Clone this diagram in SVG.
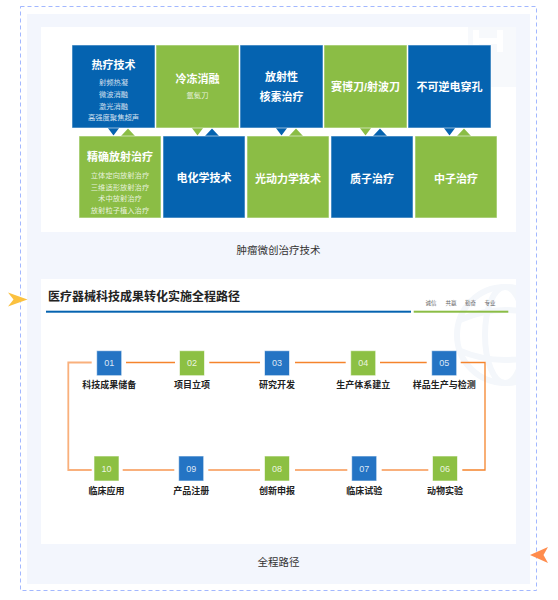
<svg xmlns="http://www.w3.org/2000/svg" width="558" height="600" viewBox="0 0 558 600">
<defs>
<style>
text{font-family:"Liberation Sans","Noto Sans CJK SC",sans-serif;text-anchor:middle;dominant-baseline:central}
.blue{fill:#0563b0}
.green{fill:#8bbd45}
.box{stroke:#ffffff;stroke-opacity:0.55;stroke-width:1}
.bt{fill:#ffffff;font-size:11px;font-weight:bold}
.st{fill:#ffffff;fill-opacity:0.82;font-size:7.3px}
.sq{stroke:#ffffff;stroke-opacity:0.6;stroke-width:1}
.sb{fill:#2474c4}
.sg{fill:#8cc043}
.num{fill:#ffffff;fill-opacity:0.85;font-size:9px}
.lab{fill:#222222;font-size:9px;font-weight:bold}
.cap{fill:#333333;font-size:10.5px}
.l1{fill:none;stroke:#f5842c;stroke-width:1.3}
.l2{fill:none;stroke:#f9b07c;stroke-width:1.8}
.wm{fill:none;stroke:#f4f7fb;stroke-width:6}
</style>
<clipPath id="c1"><rect x="41" y="27" width="475" height="205"/></clipPath>
<clipPath id="c2"><rect x="41" y="279" width="475" height="265"/></clipPath>
</defs>

<rect x="20.5" y="6.5" width="516" height="584" fill="none" stroke="#a3b8ff" stroke-width="1" stroke-dasharray="4 3"/>
<rect x="27" y="14" width="503" height="570" fill="#f3f6fd"/>
<rect x="41" y="27" width="475" height="205" fill="#ffffff"/>
<rect x="41" y="279" width="475" height="265" fill="#ffffff"/>

<g clip-path="url(#c1)">
<rect x="468" y="27" width="48" height="60" fill="#f7f9fc"/>
<path d="M476 30 L476 52 M476 41 L500 41 M500 30 L500 52" fill="none" stroke="#ffffff" stroke-width="6"/>
</g>
<g clip-path="url(#c2)">
<circle cx="505" cy="335" r="48" class="wm"/>
<ellipse cx="505" cy="335" rx="20" ry="48" class="wm" stroke-width="4"/>
<path d="M460 320 Q505 300 552 320 M458 350 Q505 370 552 350" class="wm" stroke-width="4"/>
</g>

<path d="M27.5 299.5 L8 292.5 L13.5 299.5 L8 306.5 Z" fill="#fbc13f"/>
<path d="M530 555 L548 547 L543.5 555 L548 563 Z" fill="#ff8c4d"/>

<g id="pointers">
<path d="M121 136 L135 136 L128 128.5 Z" class="green"/>
<path d="M107.5 127.5 L119.5 127.5 L113.5 135.5 Z" class="blue"/>
<path d="M205 136 L219 136 L212 128.5 Z" class="blue"/>
<path d="M191.5 127.5 L203.5 127.5 L197.5 135.5 Z" class="green"/>
<path d="M289 136 L303 136 L296 128.5 Z" class="green"/>
<path d="M275.5 127.5 L287.5 127.5 L281.5 135.5 Z" class="blue"/>
<path d="M373 136 L387 136 L380 128.5 Z" class="blue"/>
<path d="M359.5 127.5 L371.5 127.5 L365.5 135.5 Z" class="green"/>
<path d="M457 136 L471 136 L464 128.5 Z" class="green"/>
<path d="M443.5 127.5 L455.5 127.5 L449.5 135.5 Z" class="blue"/>
</g>

<g id="t1">
<rect x="72" y="45" width="83" height="83" class="blue box"/>
<text x="113.5" y="64.5" class="bt">热疗技术</text>
<text x="113.5" y="82.7" class="st">射频热凝</text>
<text x="113.5" y="94.4" class="st">微波消融</text>
<text x="113.5" y="106.1" class="st">激光消融</text>
<text x="113.5" y="117.8" class="st">高强度聚焦超声</text>
</g>
<g id="t2">
<rect x="156" y="45" width="83" height="83" class="green box"/>
<text x="197.5" y="79" class="bt">冷冻消融</text>
<text x="197.5" y="95.5" class="st">氩氦刀</text>
</g>
<g id="t3">
<rect x="240" y="45" width="83" height="83" class="blue box"/>
<text x="281.5" y="76.7" class="bt">放射性</text>
<text x="281.5" y="96.7" class="bt">核素治疗</text>
</g>
<g id="t4">
<rect x="324" y="45" width="83" height="83" class="green box"/>
<text x="365.5" y="86.7" class="bt">赛博刀/射波刀</text>
</g>
<g id="t5">
<rect x="408" y="45" width="83" height="83" class="blue box"/>
<text x="449.5" y="86.7" class="bt">不可逆电穿孔</text>
</g>

<g id="b1">
<rect x="79" y="136" width="82" height="82" class="green box"/>
<text x="120" y="156.7" class="bt">精确放射治疗</text>
<text x="120" y="175.3" class="st">立体定向放射治疗</text>
<text x="120" y="187" class="st">三维适形放射治疗</text>
<text x="120" y="198.6" class="st">术中放射治疗</text>
<text x="120" y="210.2" class="st">放射粒子植入治疗</text>
</g>
<g id="b2">
<rect x="163" y="136" width="82" height="82" class="blue box"/>
<text x="204" y="178.3" class="bt">电化学技术</text>
</g>
<g id="b3">
<rect x="247" y="136" width="82" height="82" class="green box"/>
<text x="288" y="178.5" class="bt">光动力学技术</text>
</g>
<g id="b4">
<rect x="331" y="136" width="82" height="82" class="blue box"/>
<text x="372" y="179" class="bt">质子治疗</text>
</g>
<g id="b5">
<rect x="415" y="136" width="82" height="82" class="green box"/>
<text x="456" y="179" class="bt">中子治疗</text>
</g>

<text x="278.5" y="250" class="cap">肿瘤微创治疗技术</text>

<g id="header">
<text x="48" y="297" style="text-anchor:start;font-size:12px;font-weight:bold;fill:#222222">医疗器械科技成果转化实施全程路径</text>
<rect x="46" y="310.7" width="365" height="2" fill="#0563b0"/>
<rect x="413.7" y="310.7" width="94.6" height="2" fill="#8bbd45"/>
<text x="431" y="303" style="font-size:5.5px;fill:#666666">诚信</text>
<text x="451" y="303" style="font-size:5.5px;fill:#666666">共赢</text>
<text x="470.5" y="303" style="font-size:5.5px;fill:#666666">勤奋</text>
<text x="490" y="303" style="font-size:5.5px;fill:#666666">专业</text>
</g>

<g id="connectors">
<path d="M91.7 362.5 L68.3 362.5 L68.3 470 L91.7 470" class="l2"/>
<path d="M126 362.5 L175 362.5" class="l1"/>
<path d="M209.3 362.5 L260 362.5" class="l1"/>
<path d="M295 362.5 L345.7 362.5" class="l1"/>
<path d="M380 362.5 L426.7 362.5" class="l1"/>
<path d="M460.7 362.5 L485 362.5 L485 470 L462.3 470" class="l1"/>
<path d="M428.3 470 L381.7 470" class="l2"/>
<path d="M347.3 470 L295 470" class="l2"/>
<path d="M260 470 L208.3 470" class="l2"/>
<path d="M174.3 470 L122.7 470" class="l2"/>
</g>

<g id="s01"><rect x="96.7" y="350.7" width="25" height="25" class="sb sq"/><text x="109.2" y="363.2" class="num">01</text><text x="109.2" y="385" class="lab">科技成果储备</text></g>
<g id="s02"><rect x="179.5" y="350.7" width="25" height="25" class="sg sq"/><text x="192" y="363.2" class="num">02</text><text x="192" y="385" class="lab">项目立项</text></g>
<g id="s03"><rect x="264.5" y="350.7" width="25" height="25" class="sb sq"/><text x="277" y="363.2" class="num">03</text><text x="277" y="385" class="lab">研究开发</text></g>
<g id="s04"><rect x="350.7" y="350.7" width="25" height="25" class="sg sq"/><text x="363.2" y="363.2" class="num">04</text><text x="363.2" y="385" class="lab">生产体系建立</text></g>
<g id="s05"><rect x="431.7" y="350.7" width="25" height="25" class="sb sq"/><text x="444.2" y="363.2" class="num">05</text><text x="444.2" y="385" class="lab">样品生产与检测</text></g>
<g id="s06"><rect x="432.5" y="456" width="25" height="25" class="sg sq"/><text x="445" y="468.5" class="num">06</text><text x="445" y="491" class="lab">动物实验</text></g>
<g id="s07"><rect x="351.7" y="456" width="25" height="25" class="sb sq"/><text x="364.2" y="468.5" class="num">07</text><text x="364.2" y="491" class="lab">临床试验</text></g>
<g id="s08"><rect x="264.5" y="456" width="25" height="25" class="sg sq"/><text x="277" y="468.5" class="num">08</text><text x="277" y="491" class="lab">创新申报</text></g>
<g id="s09"><rect x="178.7" y="456" width="25" height="25" class="sb sq"/><text x="191.2" y="468.5" class="num">09</text><text x="191.2" y="491" class="lab">产品注册</text></g>
<g id="s10"><rect x="94" y="456" width="25" height="25" class="sg sq"/><text x="106.5" y="468.5" class="num">10</text><text x="106.5" y="491" class="lab">临床应用</text></g>

<text x="278.5" y="561.7" class="cap">全程路径</text>
</svg>
